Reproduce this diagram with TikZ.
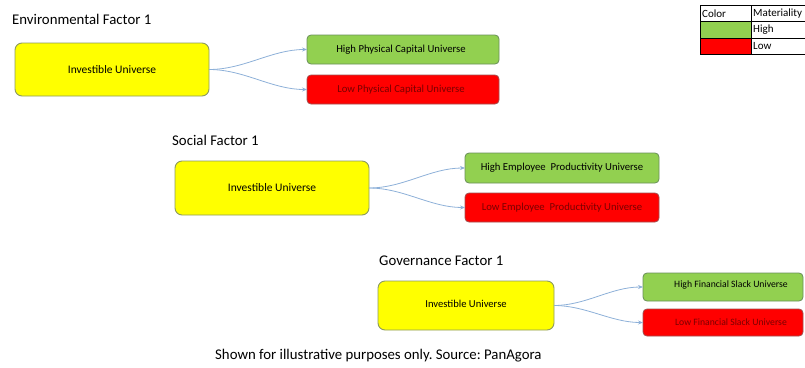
\documentclass[tikz,border=0pt]{standalone}
\usepackage{fontspec}
\setmainfont{Carlito}
\frenchspacing
\usetikzlibrary{arrows.meta}
\definecolor{ybox}{HTML}{FFFF00}
\definecolor{yborder}{HTML}{8C9A60}
\definecolor{gbox}{HTML}{92D050}
\definecolor{gborder}{HTML}{6A8F5A}
\definecolor{rbox}{HTML}{FF0000}
\definecolor{rborder}{HTML}{A05050}
\definecolor{rtext}{HTML}{7A0000}
\definecolor{conn}{HTML}{8DB0D8}
\tikzset{
  x=1pt,y=-1pt,
  rootbox/.style={draw=yborder,fill=ybox,rounded corners=7pt,line width=0.9pt},
  highbox/.style={draw=gborder,fill=gbox,rounded corners=4pt,line width=0.8pt},
  lowbox/.style={draw=rborder,fill=rbox,rounded corners=4pt,line width=0.8pt},
  roottext/.style={font=\fontsize{11.5}{13}\selectfont},
  leaftext/.style={font=\fontsize{10.7}{12}\selectfont},
  lowtext/.style={leaftext,text=rtext},
  title/.style={anchor=west,font=\fontsize{14.8}{17}\selectfont,inner sep=0pt},
  link/.style={draw=conn,line width=0.8pt,-{Stealth[length=5pt,width=4pt]}},
  legtext/.style={anchor=west,font=\fontsize{11}{13}\selectfont,inner sep=0pt}
}
\begin{document}
\begin{tikzpicture}
\useasboundingbox (0,0) rectangle (805,367);
% Environmental
\node[title] (t1) at (12,19) {Environmental Factor 1};
\path[rootbox] (15,43) rectangle (209,96);
\node[roottext] (r1) at (112,69.5) {Investible Universe};
\coordinate (r1e) at (209,69.5);
\path[highbox] (307,35) rectangle (499,64);
\node[leaftext] (h1) at (401,49.5) {High Physical Capital Universe};
\coordinate (h1w) at (307,49.5);
\path[lowbox] (307,75) rectangle (499,104);
\node[lowtext] (l1) at (401,89.5) {Low Physical Capital Universe};
\coordinate (l1w) at (307,89.5);
\draw[link] (r1e) to[out=0,in=180,looseness=0.9] (h1w);
\draw[link] (r1e) to[out=0,in=180,looseness=0.9] (l1w);
% Social
\node[title] (t2) at (172,140) {Social Factor 1};
\path[rootbox] (175,161) rectangle (369,215);
\node[roottext] (r2) at (272,188) {Investible Universe};
\coordinate (r2e) at (369,188);
\path[highbox] (465,153) rectangle (659,183);
\node[leaftext] (h2) at (562,168) {High Employee\ \ Productivity Universe};
\coordinate (h2w) at (465,168);
\path[lowbox] (465,193) rectangle (659,222);
\node[lowtext] (l2) at (562,207.5) {Low Employee\ \ Productivity Universe};
\coordinate (l2w) at (465,207.5);
\draw[link] (r2e) to[out=0,in=180,looseness=0.9] (h2w);
\draw[link] (r2e) to[out=0,in=180,looseness=0.9] (l2w);
% Governance
\node[title] (t3) at (379,261) {Governance Factor 1};
\path[rootbox] (378,281) rectangle (554,330);
\node[font=\fontsize{10.6}{12}\selectfont] (r3) at (466,304) {Investible Universe};
\coordinate (r3e) at (554,305.5);
\path[highbox] (643,273) rectangle (803,301);
\node[font=\fontsize{9.7}{11}\selectfont] (h3) at (731,284.5) {High Financial Slack Universe};
\coordinate (h3w) at (643,287);
\path[lowbox] (643,309) rectangle (803,336);
\node[font=\fontsize{9.7}{11}\selectfont,text=rtext] (l3) at (731,322) {Low Financial Slack Universe};
\coordinate (l3w) at (643,322.5);
\draw[link] (r3e) to[out=0,in=180,looseness=0.9] (h3w);
\draw[link] (r3e) to[out=0,in=180,looseness=0.9] (l3w);
% Legend
\fill[gbox] (700,21.5) rectangle (751,38);
\fill[rbox] (700,38) rectangle (751,54.5);
\node[legtext] (lc) at (702,13.5) {Color};
\node[legtext] (lm) at (753,13.5) {Materiality};
\node[legtext] (lh) at (753,30) {High};
\node[legtext] (ll) at (753,46.5) {Low};
\draw[line width=0.9pt] (700,5) rectangle (810,54.5);
\draw[line width=0.9pt] (700,21.5) -- (810,21.5);
\draw[line width=0.6pt] (700,38) -- (810,38);
\draw[line width=0.9pt] (751,5) -- (751,54.5);
% Caption
\node[title] (cap) at (215,356) {Shown for illustrative purposes only. Source: PanAgora};
\end{tikzpicture}
\end{document}
